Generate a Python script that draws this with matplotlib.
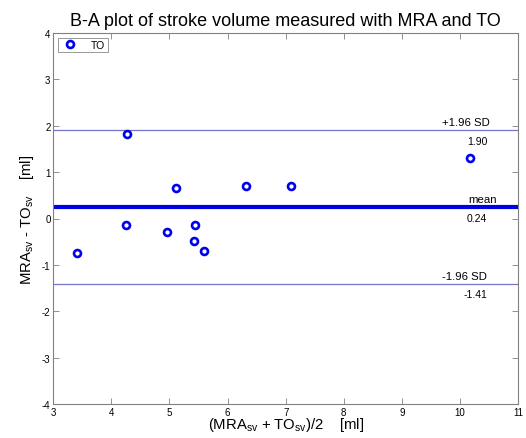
import matplotlib.pyplot as plt
import numpy as np

plt.rcParams['font.family'] = ['Liberation Sans', 'DejaVu Sans']
plt.rcParams['mathtext.fontset'] = 'custom'
plt.rcParams['mathtext.rm'] = 'Liberation Sans'
plt.rcParams['mathtext.it'] = 'Liberation Sans'
plt.rcParams['axes.unicode_minus'] = False

# averages and differences of stroke volume (MRA vs TO)
meanSV = [3.41, 4.27, 4.26, 5.11, 4.96, 5.44, 5.42, 5.60, 6.31, 7.09, 10.18]
diffSV = [-0.75, 1.82, -0.14, 0.66, -0.30, -0.13, -0.48, -0.69, 0.71, 0.69, 1.30]
meanDiff = 0.24
upperLoA = 1.90
lowerLoA = -1.41

fig = plt.figure(figsize=(5.26, 4.39), dpi=100)
ax = fig.add_axes([0.1013, 0.0774, 0.8837, 0.8452])

ax.axhline(upperLoA, color='#7474c8', lw=0.9, zorder=1)
ax.axhline(lowerLoA, color='#7474c8', lw=0.9, zorder=1)
ax.axhline(meanDiff, color='#0000e6', lw=3, zorder=1)

ax.plot(meanSV, diffSV, 'o', ls='none', mfc='white', mec='#0000ee', mew=1.9, ms=5, label='TO', zorder=3)

txt = dict(fontsize=8.2, va='center')
num = dict(fontsize=7.5, va='center')
ax.annotate('+1.96 SD', (9.69, upperLoA), xytext=(0, 6), textcoords='offset points', ha='left', **txt)
ax.annotate('%.2f' % upperLoA, (10.47, upperLoA), xytext=(0, -7.5), textcoords='offset points', ha='right', **num)
ax.annotate('mean', (10.14, meanDiff), xytext=(0, 6), textcoords='offset points', ha='left', **txt)
ax.annotate('%.2f' % meanDiff, (10.47, meanDiff), xytext=(0, -7.5), textcoords='offset points', ha='right', **num)
ax.annotate('-1.96 SD', (9.69, lowerLoA), xytext=(0, 6), textcoords='offset points', ha='left', **txt)
ax.annotate('%.2f' % lowerLoA, (10.47, lowerLoA), xytext=(0, -7.5), textcoords='offset points', ha='right', **num)

ax.set_xlim(3, 11)
ax.set_ylim(-4, 4)
ax.set_xticks(np.arange(3, 12, 1))
ax.set_yticks(np.arange(-4, 5, 1))
ax.tick_params(direction='in', length=4, width=0.6, color='#808080', labelsize=7, pad=2,
               top=True, right=True)
for s in ax.spines.values():
    s.set_color('#808080')
    s.set_linewidth(0.8)

ax.set_title('B-A plot of stroke volume measured with MRA and TO', fontsize=13, pad=6)
ax.set_xlabel(r'(MRA$_{\mathrm{sv}}$ + TO$_{\mathrm{sv}}$)/2    [ml]', fontsize=10.7, labelpad=-1)
ax.set_ylabel(r'MRA$_{\mathrm{sv}}$ - TO$_{\mathrm{sv}}$    [ml]', fontsize=10.7, labelpad=4)

leg = ax.legend(loc='upper left', fontsize=7.5, fancybox=False, edgecolor='#808080',
                borderaxespad=0.45, handlelength=2.0, handletextpad=1.0, borderpad=0.2)
leg.get_frame().set_linewidth(0.7)

fig.savefig('out.png', dpi=100)
